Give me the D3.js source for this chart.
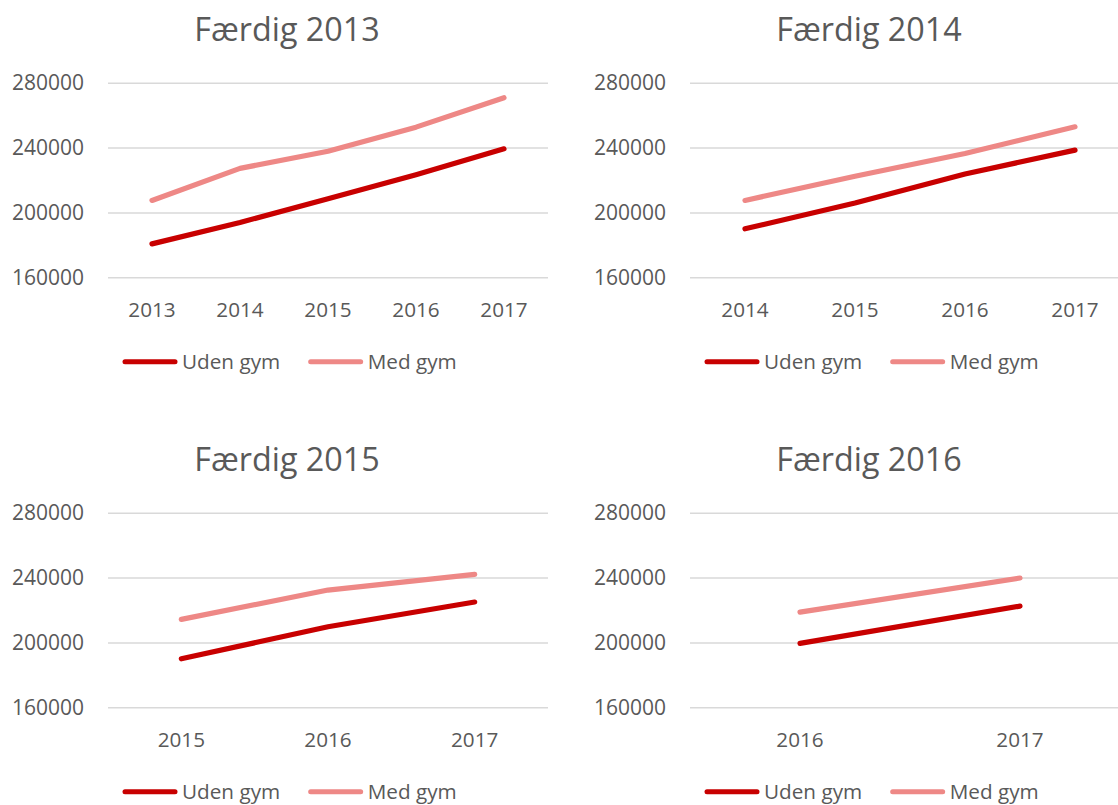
<!DOCTYPE html>
<html>
<head>
<meta charset="utf-8">
<script src="https://cdn.jsdelivr.net/npm/d3@7"></script>
<style>
  html, body { margin: 0; padding: 0; background: #fff; }
  svg { display: block; }
  text { font-family: "Open Sans", sans-serif; fill: #595959; }
</style>
</head>
<body>
<svg id="chart" width="1118" height="805"></svg>
<script>
// ---- Data ----
const panelTitles = ["Færdig 2013", "Færdig 2014", "Færdig 2015", "Færdig 2016"];
const panelYears = [
  ["2013", "2014", "2015", "2016", "2017"],
  ["2014", "2015", "2016", "2017"],
  ["2015", "2016", "2017"],
  ["2016", "2017"]
];
const udenGym = [
  [180600, 193800, 208500, 223300, 239200],
  [189900, 205800, 223700, 238400],
  [189900, 209700, 224900],
  [199400, 222400]
];
const medGym = [
  [207400, 227200, 237700, 252600, 270700],
  [207400, 222300, 236300, 252800],
  [214200, 232300, 242000],
  [218700, 239700]
];
const yTicks = [160000, 200000, 240000, 280000];
const seriesNames = ["Uden gym", "Med gym"];
const seriesColors = ["#C80000", "#EE8886"];

// ---- Layout ----
const svg = d3.select("#chart");
const panelOrigins = [[0, 0], [582, 0], [0, 430], [582, 430]];
const plotLeft = 108, plotRight = 548;
const plotTop = 82.7, plotBottom = 277.3;

panelOrigins.forEach((o, i) => {
  const g = svg.append("g").attr("transform", `translate(${o[0]},${o[1]})`);

  const x = d3.scaleBand().domain(panelYears[i]).range([plotLeft, plotRight]);
  const y = d3.scaleLinear().domain([160000, 280000]).range([plotBottom, plotTop]);

  // Title
  g.append("text")
    .attr("x", 287).attr("y", 40.7)
    .attr("text-anchor", "middle")
    .style("font-size", "32.3px")
    .text(panelTitles[i]);

  // Gridlines + y labels
  const yAxis = d3.axisLeft(y).tickValues(yTicks)
    .tickSize(-(plotRight - plotLeft)).tickPadding(24)
    .tickFormat(d3.format("d"));
  const ya = g.append("g").attr("transform", `translate(${plotLeft},0)`).call(yAxis);
  ya.select(".domain").remove();
  ya.selectAll(".tick line").attr("stroke", "#D9D9D9").attr("stroke-width", 1.4);
  ya.selectAll(".tick text")
    .style("font-size", "21px")
    .style("font-family", "'Open Sans', sans-serif")
    .attr("fill", "#595959");

  // x labels
  const xAxis = d3.axisBottom(x).tickSize(0).tickPadding(0);
  const xa = g.append("g").attr("transform", `translate(0,${plotBottom})`).call(xAxis);
  xa.select(".domain").remove();
  xa.selectAll(".tick text")
    .attr("dy", null).attr("y", 39.4)
    .style("font-size", "20.7px")
    .style("font-family", "'Open Sans', sans-serif")
    .attr("fill", "#595959");

  // Lines
  const line = d3.line()
    .x((d, k) => x(panelYears[i][k]) + x.bandwidth() / 2)
    .y(d => y(d));
  [udenGym[i], medGym[i]].forEach((vals, s) => {
    g.append("path")
      .datum(vals)
      .attr("d", line)
      .attr("fill", "none")
      .attr("stroke", seriesColors[s])
      .attr("stroke-width", 5.2)
      .attr("stroke-linecap", "round")
      .attr("stroke-linejoin", "round");
  });

  // Legend
  const lg = g.append("g");
  const legY = 361.7;
  let cx = 0;
  const lineLen = 55, gap = 4.5, itemGap = 28;
  seriesNames.forEach((name, s) => {
    lg.append("line")
      .attr("x1", cx + 2.5).attr("x2", cx + lineLen - 2.5)
      .attr("y1", legY).attr("y2", legY)
      .attr("stroke", seriesColors[s]).attr("stroke-width", 5)
      .attr("stroke-linecap", "round");
    const t = lg.append("text")
      .attr("x", cx + lineLen + gap).attr("y", legY)
      .attr("dy", "0.35em")
      .style("font-size", "20.7px")
      .text(name);
    cx += lineLen + gap + t.node().getComputedTextLength() + itemGap;
  });
  const total = cx - itemGap;
  lg.attr("transform", `translate(${289.6 - total / 2},0)`);
});
</script>
</body>
</html>
